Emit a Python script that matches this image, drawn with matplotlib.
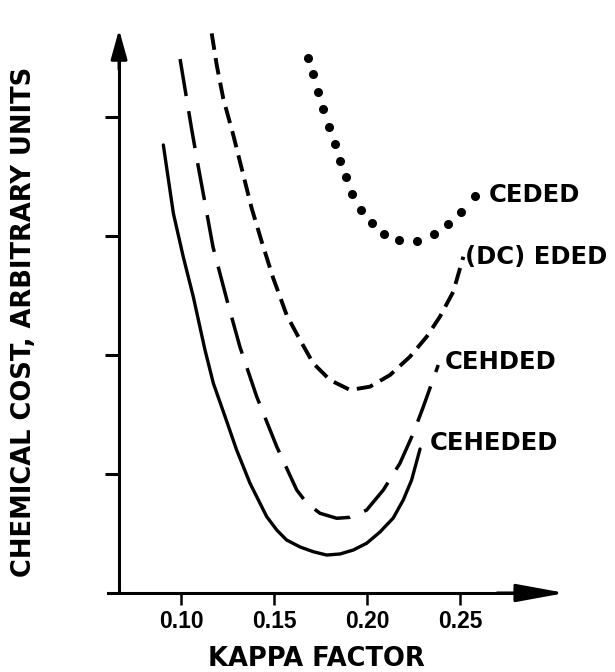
import numpy as np
import matplotlib
matplotlib.use("Agg")
import matplotlib.pyplot as plt

plt.rcParams['lines.scale_dashes'] = False

# curve data (kappa factor, cost in tick units)
ceheded_x = [0.0905, 0.0959, 0.1012, 0.1066, 0.1129, 0.1174, 0.1237, 0.1299, 0.1371,
             0.1461, 0.1515, 0.1568, 0.1640, 0.1711, 0.1783, 0.1855, 0.1926, 0.1998,
             0.2070, 0.2141, 0.2195, 0.2240, 0.2285]
ceheded_y = [3.765, 3.190, 2.826, 2.490, 2.042, 1.762, 1.482, 1.202, 0.922,
             0.641, 0.529, 0.445, 0.387, 0.347, 0.319, 0.328, 0.361, 0.418,
             0.513, 0.630, 0.782, 0.950, 1.210]

cehded_x = [0.0995, 0.1058, 0.1093, 0.1129, 0.1172, 0.1247, 0.1317, 0.1407, 0.1515,
            0.1622, 0.1676, 0.1747, 0.1837, 0.1909, 0.1998, 0.2088, 0.2177, 0.2249,
            0.2303, 0.2383]
cehded_y = [4.487, 3.891, 3.582, 3.277, 2.908, 2.462, 2.067, 1.650, 1.229,
            0.866, 0.756, 0.670, 0.628, 0.636, 0.697, 0.866, 1.090, 1.342,
            1.566, 1.916]

dceded_x = [0.1165, 0.1192, 0.1227, 0.1281, 0.1326, 0.1380, 0.1434, 0.1496, 0.1568,
            0.1640, 0.1711, 0.1801, 0.1909, 0.2016, 0.2124, 0.2231, 0.2321, 0.2392,
            0.2464, 0.2518]
dceded_y = [4.703, 4.437, 4.157, 3.849, 3.569, 3.233, 2.952, 2.645, 2.336,
            2.126, 1.930, 1.790, 1.706, 1.734, 1.832, 1.986, 2.154, 2.322,
            2.532, 2.826]

ceded_x = [0.1683, 0.1710, 0.1737, 0.1763, 0.1796, 0.1828, 0.1855, 0.1887, 0.1919,
           0.1968, 0.2027, 0.2091, 0.2172, 0.2269, 0.2360, 0.2435, 0.2505, 0.2581]
ceded_y = [4.50, 4.36, 4.21, 4.07, 3.92, 3.77, 3.63, 3.50, 3.35,
           3.22, 3.11, 3.02, 2.97, 2.96, 3.02, 3.10, 3.20, 3.34]

xticks = [0.10, 0.15, 0.20, 0.25]
xticklabels = ['0.10', '0.15', '0.20', '0.25']
yticks = [1, 2, 3, 4]

labels = ['CEDED', '(DC) EDED', 'CEHDED', 'CEHEDED']
label_x = [0.2656, 0.2527, 0.2419, 0.2339]
label_y = [3.345, 2.824, 1.941, 1.261]

fig = plt.figure(figsize=(6.15, 6.72), dpi=100)
ax = fig.add_axes([100/615, 72/672, 470/615, 572/672])
ax.set_xlim(0.05645, 0.30914)
ax.set_ylim(-0.0588, 4.748)

yaxis_x = 0.0667
for s in ['top', 'right']:
    ax.spines[s].set_visible(False)
ax.spines['bottom'].set_position(('data', 0))
ax.spines['left'].set_position(('data', yaxis_x))
ax.spines['bottom'].set_bounds(0.0608, 0.29)
ax.spines['left'].set_bounds(0, 4.6)
ax.spines['bottom'].set_linewidth(2.2)
ax.spines['left'].set_linewidth(2.2)

ax.set_xticks(xticks)
ax.set_xticklabels(xticklabels, fontfamily='Liberation Sans', fontweight='bold', fontsize=16.5)
ax.set_yticks(yticks)
ax.set_yticklabels([])
ax.tick_params(axis='x', direction='out', length=8.5, width=1.8, pad=4)
ax.tick_params(axis='y', direction='out', length=10, width=2.2)

# arrow heads
ax.annotate('', xy=(0.3065, 0), xytext=(0.27, 0),
            arrowprops=dict(arrowstyle='-|>,head_length=3.0,head_width=0.55',
                            mutation_scale=10, lw=2.2, color='black',
                            shrinkA=0, shrinkB=0))
ax.annotate('', xy=(yaxis_x, 4.735), xytext=(yaxis_x, 4.4),
            arrowprops=dict(arrowstyle='-|>,head_length=1.8,head_width=0.5',
                            mutation_scale=10, lw=2.2, color='black',
                            shrinkA=0, shrinkB=0))

ax.plot(ceheded_x, ceheded_y, color='black', lw=2.4, solid_capstyle='round',
        solid_joinstyle='round', clip_on=False)
ax.plot(cehded_x, cehded_y, color='black', lw=2.5, linestyle=(0, (27, 11)),
        dash_joinstyle='round', clip_on=False)
ax.plot(dceded_x, dceded_y, color='black', lw=2.8, linestyle=(0, (12, 6)),
        dash_joinstyle='round', clip_on=False)
ax.plot(ceded_x, ceded_y, 'o', color='black', markersize=5.5, clip_on=False)

for t, lx, ly in zip(labels, label_x, label_y):
    ax.text(lx, ly, t, ha='left', va='center', fontsize=17.5,
            fontfamily='DejaVu Sans', fontweight='bold')

fig.text(24/615, 1 - 322/672, 'CHEMICAL COST, ARBITRARY UNITS', rotation=90,
         ha='center', va='center', fontsize=18.5, fontfamily='DejaVu Sans', fontweight='bold')
fig.text(316/615, 1 - 659/672, 'KAPPA FACTOR', ha='center', va='center',
         fontsize=18.5, fontfamily='DejaVu Sans', fontweight='bold')

fig.savefig('out.png', dpi=100)
